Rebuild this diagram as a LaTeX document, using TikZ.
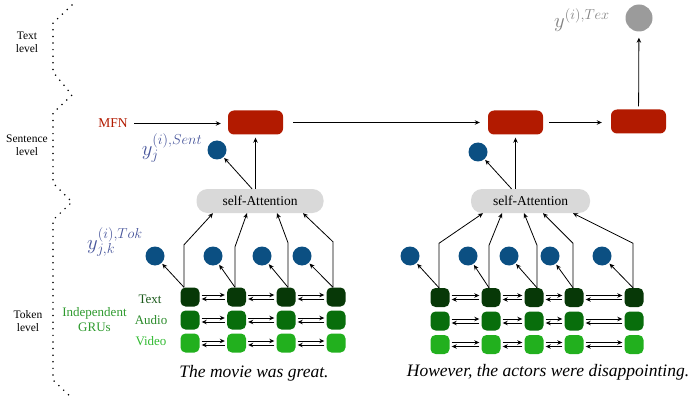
\documentclass[tikz,border=0pt]{standalone}
\usepackage[no-math]{fontspec}
\setmainfont{Liberation Serif}
\usetikzlibrary{arrows.meta,calc}
\definecolor{mfnred}{HTML}{B21A00}
\definecolor{dotblue}{HTML}{0B4F82}
\definecolor{gtext}{HTML}{073807}
\definecolor{gaudio}{HTML}{086E0C}
\definecolor{gvideo}{HTML}{22B01E}
\definecolor{labtext}{HTML}{1C5A1C}
\definecolor{labaudio}{HTML}{2A8A2A}
\definecolor{labvideo}{HTML}{33BB33}
\definecolor{labgru}{HTML}{2E9A2E}
\definecolor{mathblue}{HTML}{46549A}
\definecolor{outgray}{HTML}{9B9B9B}
\definecolor{sagray}{HTML}{D9D9D9}
\begin{document}
\begin{tikzpicture}[x=1pt,y=-1pt,
  >={Stealth[length=5pt,width=4.5pt]},
  conn/.style={->,line width=0.8pt},
  redbox/.style={rectangle,rounded corners=6pt,fill=mfnred,minimum width=55pt,minimum height=24pt,inner sep=0pt},
  gru/.style={rectangle,rounded corners=5pt,minimum size=19pt,inner sep=0pt},
  tokdot/.style={circle,fill=dotblue,minimum size=19pt,inner sep=0pt},
  sabox/.style={rectangle,rounded corners=11pt,fill=sagray,minimum height=24pt,inner sep=0pt,font=\fontsize{13.5}{15}\selectfont},
  lvl/.style={align=center,font=\fontsize{11.5}{13}\selectfont},
  mlab/.style={font=\fontsize{21}{24}\selectfont},
  sent/.style={font=\fontsize{17.5}{20}\selectfont\itshape},
  modlab/.style={font=\fontsize{13}{15}\selectfont},
  dotline/.style={line width=1.7pt,dash pattern=on 0pt off 6.6pt,line cap=round}
]
\useasboundingbox (0,0) rectangle (698,398);

% level separator
\draw[dotline] (72,5) -- (53,23) -- (53,72) -- (72,95) -- (53,113) -- (53,183) -- (72,202) -- (53,220) -- (53,380) -- (72,398);
\node[lvl] (lt) at (27,42) {Text\\level};
\node[lvl] (ls) at (27,145) {Sentence\\level};
\node[lvl] (lk) at (28,321) {Token\\level};

% text level
\node[redbox] (r1) at (255.5,122.5) {};
\node[redbox] (r2) at (515.5,122.5) {};
\node[redbox] (r3) at (638.5,121.5) {};
\node[circle,fill=outgray,minimum size=27pt,inner sep=0pt] (out) at (639,18) {};
\node[mlab,text=gray] (texlab) at (582,20) {$y^{(i),Tex}$};
\node[text=mfnred,font=\fontsize{13.5}{15}\selectfont] (mfn) at (113,123.5) {MFN};

\draw[conn,shorten <=3pt,shorten >=7pt] (mfn.east) -- (mfn.east -| r1.west);
\draw[conn,shorten <=10pt,shorten >=8pt] (r1) -- (r2);
\draw[conn,shorten <=6pt,shorten >=9pt] (r2.east) -- (r2.east -| r3.west);
\draw[conn,shorten <=3pt,shorten >=6pt] (r3) -- (out);

% sentence level
\node[sabox,minimum width=127pt] (sa1) at (260,201) {self-Attention};
\node[sabox,minimum width=119pt] (sa2) at (530.5,201) {self-Attention};
\node[tokdot] (ys1) at (217,150) {};
\node[tokdot] (ys2) at (478,152) {};
\node[mlab,text=mathblue] (sentlab) at (172,148) {$y_j^{(i),Sent}$};
\node[mlab,text=mathblue] (toklab) at (115,242) {$y_{j,k}^{(i),Tok}$};

\draw[conn,shorten >=3pt] (r1.south |- sa1.north) -- (r1.south);
\draw[conn,shorten >=3pt] (r2.south |- sa2.north) -- (r2.south);
\draw[conn,shorten >=1pt] ([xshift=-8pt]sa1.north) -- (ys1);
\draw[conn,shorten >=1pt] ([xshift=-19pt]sa2.north) -- (ys2);

% token level labels
\node[align=center,text=labgru,font=\fontsize{13}{15}\selectfont] (indep) at (94.5,319.5) {Independent\\GRUs};
\node[modlab,text=labtext] (ltext) at (150,299) {Text};
\node[modlab,text=labaudio] (laudio) at (151,320) {Audio};
\node[modlab,text=labvideo] (lvideo) at (151,341) {Video};

% sentence 1 GRUs
\foreach \x [count=\i] in {190,236.5,286,336} {
  \node[gru,fill=gtext]  (a-t-\i) at (\x,297) {};
  \node[gru,fill=gaudio] (a-a-\i) at (\x,320) {};
  \node[gru,fill=gvideo] (a-v-\i) at (\x,343) {};
}
\foreach \x [count=\i] in {155,213,262,302} {
  \node[tokdot] (ta-\i) at (\x,256) {};
}
% sentence 2 GRUs
\foreach \x [count=\i] in {440,491,534,574,634} {
  \node[gru,fill=gtext]  (b-t-\i) at (\x,297.5) {};
  \node[gru,fill=gaudio] (b-a-\i) at (\x,321) {};
  \node[gru,fill=gvideo] (b-v-\i) at (\x,344.5) {};
}
\foreach \x [count=\i] in {410,468,509,550,602} {
  \node[tokdot] (tb-\i) at (\x,256) {};
}

% bidirectional arrows
\foreach \r in {t,a,v} {
  \foreach \i/\j in {1/2,2/3,3/4} {
    \draw[conn,shorten <=2pt,shorten >=2pt] ([yshift=2pt]a-\r-\i.east) -- ([yshift=2pt]a-\r-\j.west);
    \draw[conn,shorten <=2pt,shorten >=2pt] ([yshift=-2pt]a-\r-\j.west) -- ([yshift=-2pt]a-\r-\i.east);
  }
  \foreach \i/\j in {1/2,2/3,3/4,4/5} {
    \draw[conn,shorten <=2pt,shorten >=2pt] ([yshift=2pt]b-\r-\i.east) -- ([yshift=2pt]b-\r-\j.west);
    \draw[conn,shorten <=2pt,shorten >=2pt] ([yshift=-2pt]b-\r-\j.west) -- ([yshift=-2pt]b-\r-\i.east);
  }
}

% sentence 1: GRU -> attention, GRU -> token output
\foreach \i/\dx/\up/\ex in {1/-6/42.5/-47, 2/-1.5/40.5/-13, 3/2/44.5/17, 4/-3/45.5/43} {
  \draw[conn] ([xshift=\dx pt]a-t-\i.north) -- ++(0,-\up) -- ([xshift=\ex pt]sa1.south);
  \draw[conn,shorten >=1pt] ([xshift=\dx pt]a-t-\i.north) -- (ta-\i);
}
% sentence 2
\foreach \i/\dx/\up/\ex in {1/-1/44.5/-47.5, 2/-2/42.5/-28.5, 3/3/42.5/-6.5, 4/-1/44.5/12.5, 5/-1/44.5/42.5} {
  \draw[conn] ([xshift=\dx pt]b-t-\i.north) -- ++(0,-\up) -- ([xshift=\ex pt]sa2.south);
  \draw[conn,shorten >=1pt] ([xshift=\dx pt]b-t-\i.north) -- (tb-\i);
}

% sentences
\node[sent] (s1) at (254,373) {The movie was great.};
\node[sent] (s2) at (548,372) {However, the actors were disappointing.};
\end{tikzpicture}
\end{document}
